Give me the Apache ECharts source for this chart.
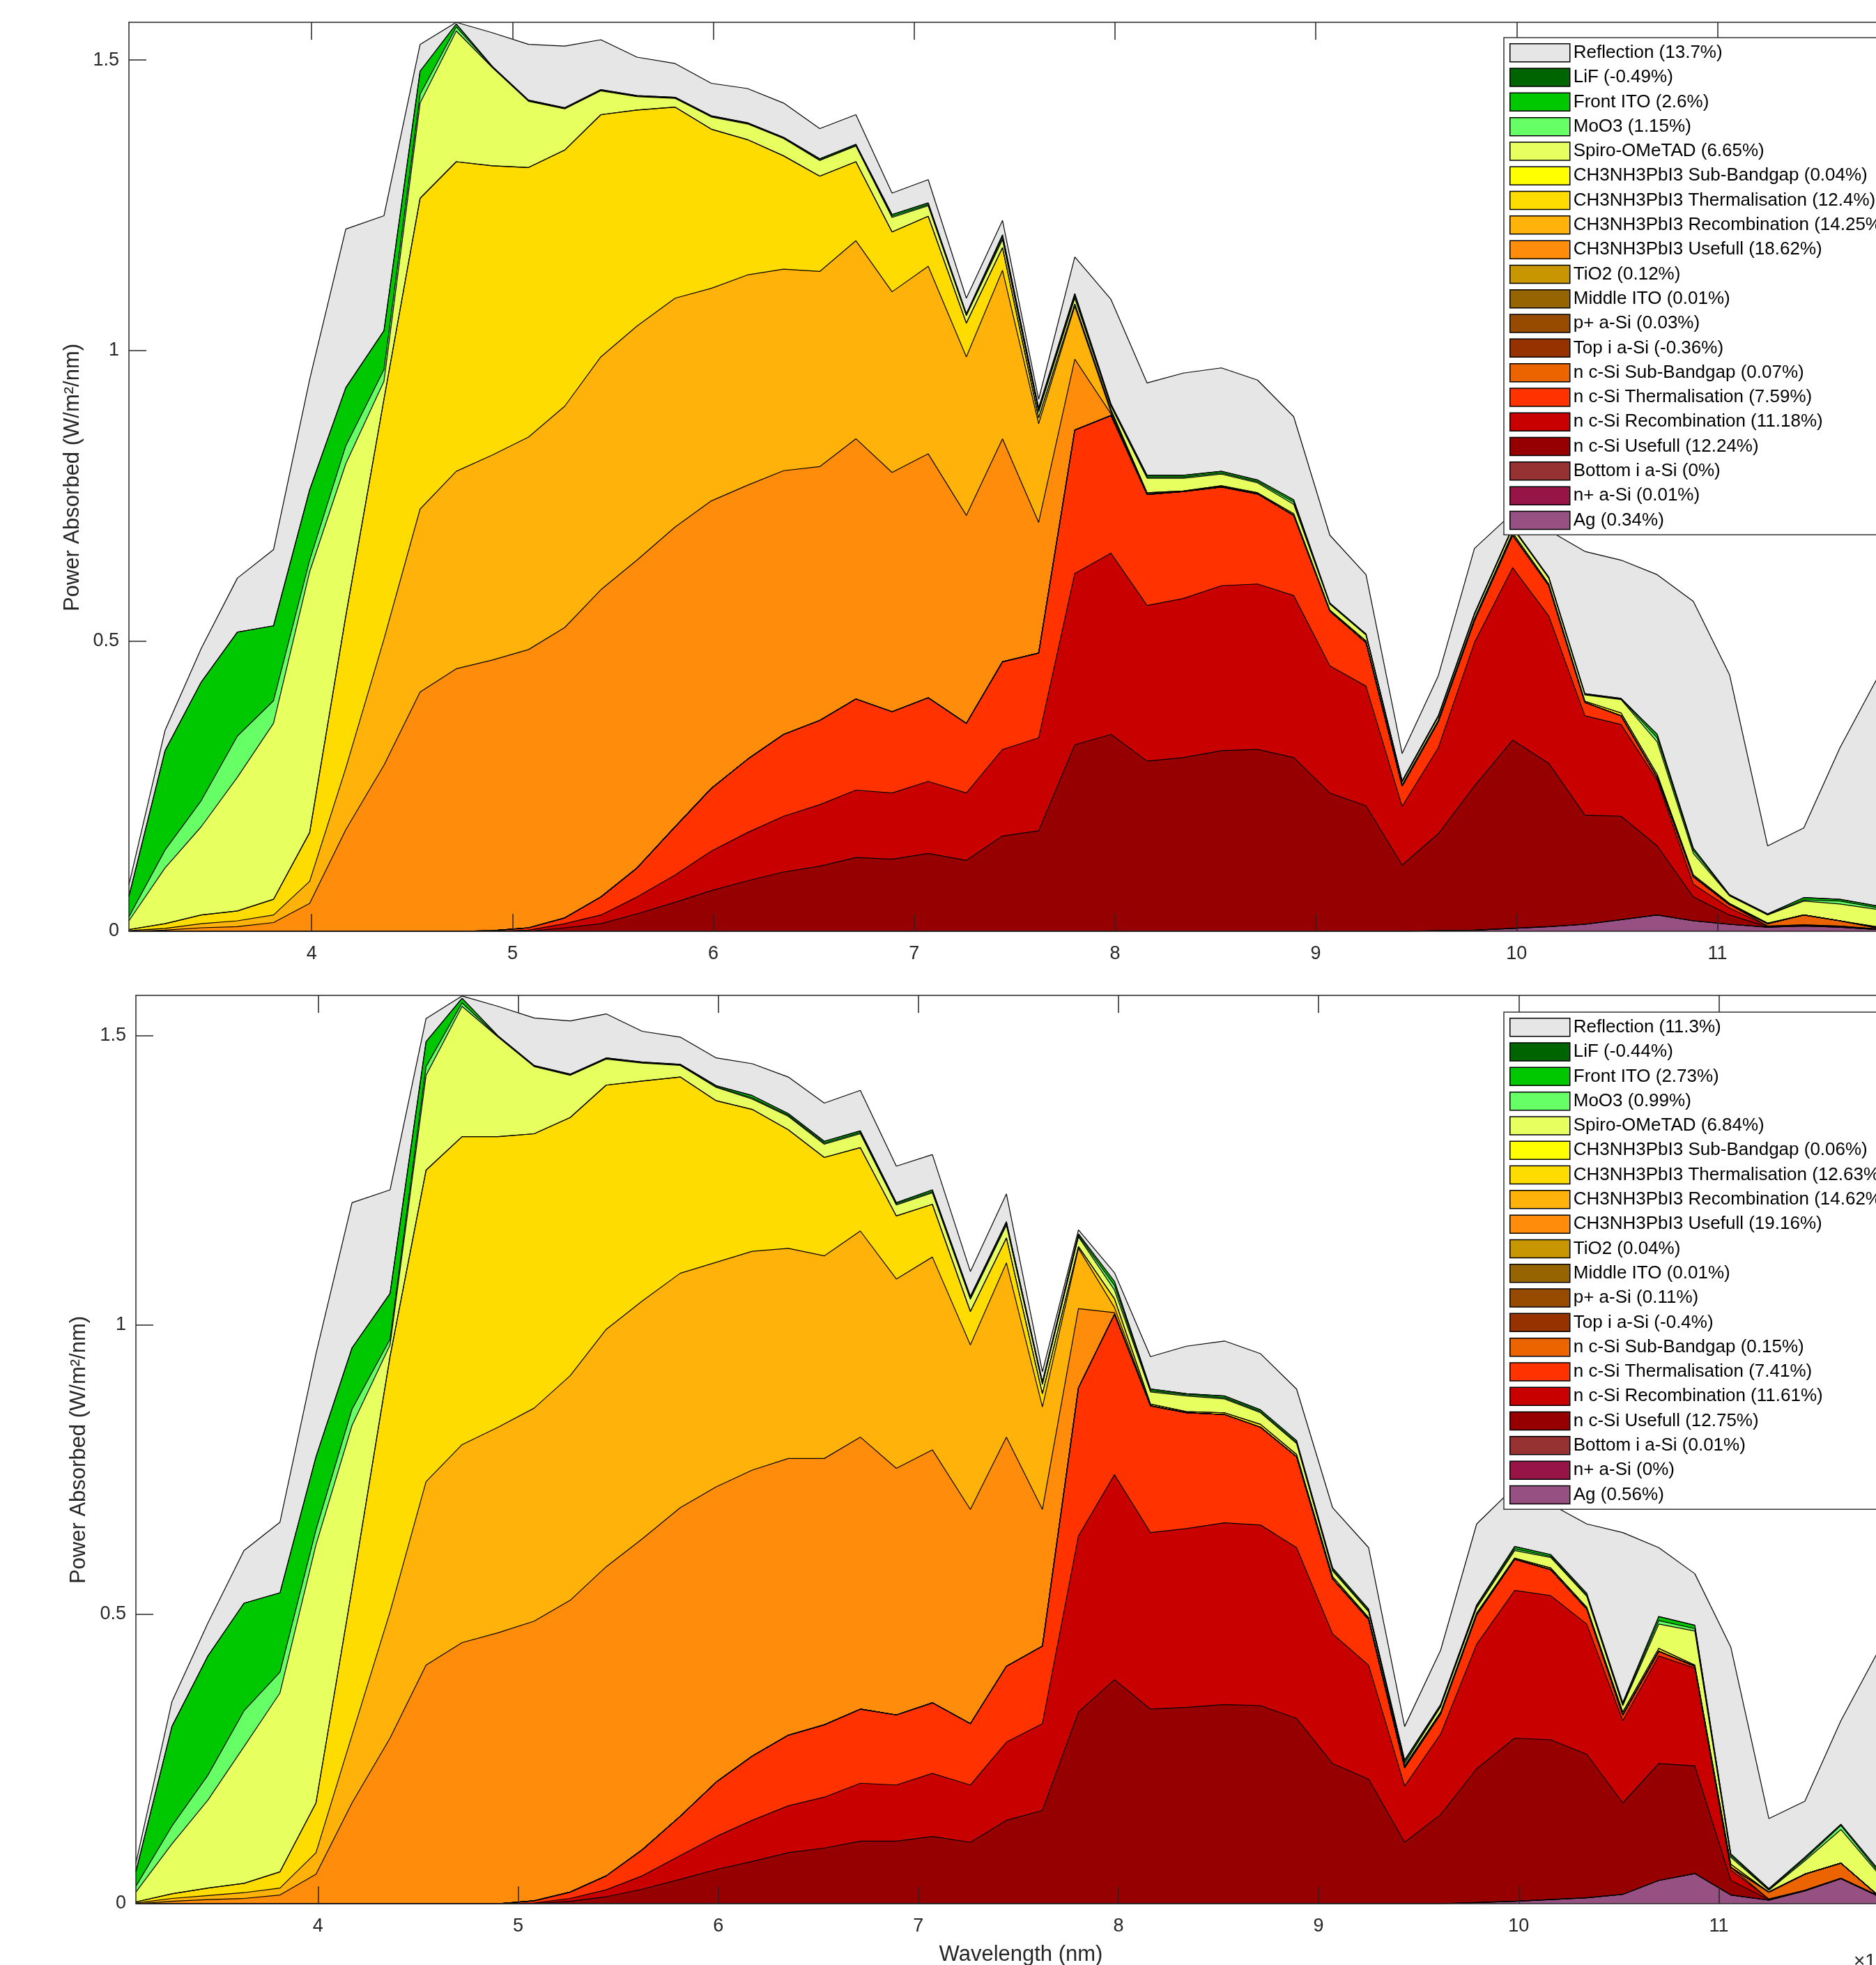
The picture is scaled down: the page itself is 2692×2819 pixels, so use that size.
<!DOCTYPE html>
<html>
<head>
<meta charset="utf-8">
<script src="https://cdn.jsdelivr.net/npm/echarts@6/dist/echarts.min.js"></script>
<style>
html,body{margin:0;padding:0;background:#ffffff;overflow:hidden;width:2692px;height:2819px}
#chart{width:2800px;height:2819px}
</style>
</head>
<body>
<div id="chart"></div>
<script>
// ---------- DATA (wavelength in units of 1e-7 m) ----------
const wavelength = [3.09,3.27,3.45,3.63,3.81,3.99,4.17,4.36,4.54,4.72,4.90,5.08,5.26,5.44,5.62,5.81,5.99,6.17,6.35,6.53,6.71,6.89,7.07,7.26,7.44,7.62,7.80,7.98,8.16,8.34,8.53,8.71,8.89,9.07,9.25,9.43,9.61,9.79,9.98,10.16,10.34,10.52,10.70,10.88,11.06,11.25,11.43,11.61,11.79,11.97];
const xTicks = [4,5,6,7,8,9,10,11];
const yTicks = [0,0.5,1,1.5];

const layerNames = ['Reflection','LiF','Front ITO','MoO3','Spiro-OMeTAD','CH3NH3PbI3 Sub-Bandgap','CH3NH3PbI3 Thermalisation','CH3NH3PbI3 Recombination','CH3NH3PbI3 Usefull','TiO2','Middle ITO','p+ a-Si','Top i a-Si','n c-Si Sub-Bandgap','n c-Si Thermalisation','n c-Si Recombination','n c-Si Usefull','Bottom i a-Si','n+ a-Si','Ag'];
const layerColors = ['#E6E6E6','#006400','#00C800','#66FF66','#E8FF60','#FFFF00','#FFDC00','#FFB20A','#FF8C0A','#C89600','#966400','#964B00','#963200','#EB6400','#FF3200','#C80000','#960000','#963232','#961446','#965082'];
const pctTop = ['13.7','-0.49','2.6','1.15','6.65','0.04','12.4','14.25','18.62','0.12','0.01','0.03','-0.36','0.07','7.59','11.18','12.24','0','0.01','0.34'];
const pctBottom = ['11.3','-0.44','2.73','0.99','6.84','0.06','12.63','14.62','19.16','0.04','0.01','0.11','-0.4','0.15','7.41','11.61','12.75','0.01','0','0.56'];

// Top panel: cumulative top edge of each visible layer (W/m^2/nm)
const topReflection = [0.08,0.346,0.487,0.608,0.657,0.95,1.209,1.232,1.527,1.565,1.547,1.527,1.524,1.535,1.505,1.494,1.460,1.451,1.426,1.382,1.406,1.271,1.294,1.090,1.224,0.916,1.161,1.088,0.944,0.961,0.970,0.949,0.886,0.682,0.614,0.306,0.440,0.659,0.72,0.69,0.654,0.639,0.614,0.568,0.442,0.147,0.178,0.316,0.432,0.53];
const topFrontITO = [0.06,0.311,0.429,0.515,0.526,0.760,0.936,1.034,1.481,1.562,1.489,1.431,1.418,1.449,1.439,1.436,1.404,1.392,1.367,1.330,1.355,1.234,1.254,1.063,1.199,0.901,1.098,0.908,0.785,0.785,0.792,0.777,0.743,0.565,0.512,0.259,0.371,0.547,0.696,0.610,0.409,0.401,0.339,0.143,0.063,0.030,0.058,0.055,0.044,0.036];
const topMoO3 = [0.025,0.14,0.225,0.336,0.397,0.639,0.836,0.967,1.441,1.557,1.488,1.430,1.417,1.448,1.438,1.435,1.403,1.391,1.366,1.328,1.353,1.231,1.251,1.061,1.195,0.897,1.094,0.906,0.782,0.782,0.789,0.774,0.739,0.564,0.511,0.258,0.370,0.546,0.695,0.609,0.408,0.400,0.333,0.139,0.062,0.029,0.054,0.052,0.041,0.034];
const topSpiro = [0.018,0.109,0.18,0.265,0.358,0.619,0.805,0.947,1.426,1.550,1.487,1.429,1.416,1.447,1.437,1.434,1.402,1.390,1.365,1.327,1.352,1.229,1.249,1.060,1.191,0.894,1.090,0.904,0.780,0.780,0.787,0.772,0.735,0.563,0.510,0.257,0.369,0.545,0.694,0.608,0.407,0.399,0.326,0.134,0.061,0.028,0.052,0.047,0.038,0.032];
const topPerovTherm = [0.003,0.013,0.028,0.035,0.055,0.170,0.543,0.916,1.262,1.325,1.318,1.315,1.345,1.406,1.414,1.419,1.381,1.363,1.335,1.300,1.325,1.204,1.231,1.047,1.177,0.884,1.080,0.898,0.755,0.758,0.767,0.755,0.719,0.553,0.500,0.252,0.363,0.538,0.686,0.598,0.396,0.376,0.270,0.097,0.048,0.014,0.028,0.018,0.008,0.005];
const topPerovRecomb = [0.001,0.005,0.013,0.018,0.028,0.086,0.281,0.503,0.727,0.792,0.820,0.851,0.904,0.989,1.042,1.090,1.107,1.130,1.140,1.136,1.189,1.101,1.145,0.989,1.138,0.874,1.076,0.894,0.753,0.757,0.765,0.753,0.716,0.551,0.497,0.250,0.361,0.535,0.682,0.595,0.394,0.371,0.265,0.094,0.046,0.013,0.028,0.018,0.006,0.004];
const topPerovUseful = [0,0.002,0.006,0.008,0.015,0.048,0.175,0.286,0.412,0.452,0.467,0.485,0.523,0.588,0.639,0.696,0.741,0.768,0.793,0.800,0.848,0.790,0.822,0.716,0.848,0.704,0.985,0.891,0.753,0.757,0.765,0.753,0.716,0.551,0.497,0.250,0.361,0.535,0.682,0.595,0.394,0.371,0.265,0.094,0.046,0.013,0.028,0.018,0.006,0.004];
const topSiSubBG = [0,0,0,0,0,0,0,0,0,0,0.001,0.006,0.023,0.059,0.109,0.180,0.246,0.296,0.339,0.363,0.400,0.378,0.402,0.358,0.464,0.479,0.863,0.888,0.752,0.757,0.765,0.753,0.716,0.551,0.497,0.250,0.361,0.535,0.682,0.595,0.394,0.371,0.265,0.094,0.046,0.013,0.028,0.018,0.006,0.004];
const topSiTherm = [0,0,0,0,0,0,0,0,0,0,0.001,0.006,0.023,0.059,0.109,0.180,0.246,0.296,0.339,0.363,0.400,0.378,0.402,0.358,0.464,0.479,0.863,0.888,0.752,0.757,0.765,0.753,0.716,0.551,0.497,0.250,0.361,0.535,0.682,0.595,0.394,0.371,0.265,0.094,0.046,0.009,0.011,0.009,0.004,0.003];
const topSiRecomb = [0,0,0,0,0,0,0,0,0,0,0,0.002,0.013,0.028,0.059,0.097,0.138,0.170,0.198,0.218,0.243,0.238,0.258,0.238,0.313,0.333,0.616,0.651,0.561,0.573,0.595,0.598,0.578,0.457,0.422,0.215,0.316,0.497,0.626,0.543,0.371,0.356,0.260,0.081,0.040,0.009,0.011,0.009,0.004,0.003];
const topSiUseful = [0,0,0,0,0,0,0,0,0,0,0,0,0.006,0.013,0.030,0.050,0.070,0.087,0.102,0.112,0.127,0.124,0.134,0.122,0.164,0.173,0.321,0.339,0.293,0.299,0.311,0.313,0.299,0.238,0.216,0.114,0.168,0.250,0.329,0.289,0.200,0.198,0.147,0.059,0.028,0.008,0.010,0.008,0.004,0.003];
const topAg = [0,0,0,0,0,0,0,0,0,0,0,0,0,0,0,0,0,0,0,0,0,0,0,0,0,0,0,0,0,0,0,0,0,0,0,0,0.001,0.002,0.005,0.008,0.012,0.020,0.028,0.018,0.012,0.007,0.009,0.007,0.003,0.002];

// Bottom panel
const botReflection = [0.07,0.349,0.485,0.610,0.659,0.95,1.211,1.233,1.529,1.568,1.550,1.530,1.525,1.537,1.507,1.497,1.461,1.451,1.428,1.383,1.405,1.274,1.294,1.092,1.226,0.919,1.164,1.090,0.945,0.963,0.972,0.950,0.889,0.684,0.615,0.306,0.438,0.656,0.72,0.69,0.656,0.641,0.615,0.570,0.443,0.147,0.177,0.316,0.432,0.53];
const botFrontITO = [0.055,0.306,0.428,0.519,0.537,0.772,0.960,1.054,1.489,1.564,1.499,1.448,1.433,1.461,1.454,1.450,1.413,1.396,1.365,1.317,1.335,1.211,1.233,1.049,1.178,0.901,1.157,1.075,0.889,0.881,0.877,0.853,0.800,0.580,0.509,0.248,0.344,0.516,0.617,0.603,0.536,0.347,0.496,0.481,0.086,0.026,0.080,0.137,0.062,0.045];
const botMoO3 = [0.03,0.134,0.222,0.333,0.400,0.646,0.854,0.975,1.446,1.556,1.498,1.447,1.432,1.460,1.453,1.449,1.411,1.392,1.362,1.314,1.332,1.209,1.230,1.046,1.175,0.899,1.154,1.068,0.886,0.879,0.874,0.850,0.797,0.577,0.506,0.245,0.342,0.513,0.613,0.600,0.533,0.344,0.489,0.475,0.083,0.024,0.077,0.135,0.058,0.042];
const botSpiro = [0.02,0.103,0.179,0.271,0.364,0.620,0.826,0.965,1.431,1.550,1.497,1.446,1.431,1.459,1.452,1.448,1.410,1.390,1.360,1.312,1.330,1.207,1.228,1.044,1.172,0.897,1.152,1.060,0.884,0.877,0.872,0.848,0.795,0.575,0.504,0.242,0.340,0.511,0.610,0.598,0.531,0.342,0.483,0.471,0.080,0.023,0.074,0.128,0.055,0.040];
const botPerovTherm = [0.003,0.017,0.027,0.035,0.055,0.174,0.544,0.945,1.267,1.325,1.325,1.330,1.358,1.414,1.421,1.428,1.387,1.372,1.337,1.289,1.306,1.188,1.208,1.023,1.150,0.881,1.135,1.045,0.863,0.850,0.848,0.828,0.776,0.565,0.494,0.238,0.331,0.502,0.597,0.580,0.512,0.331,0.441,0.412,0.068,0.020,0.051,0.070,0.016,0.005];
const botPerovRecomb = [0.001,0.009,0.014,0.019,0.027,0.088,0.291,0.504,0.729,0.793,0.823,0.856,0.912,0.992,1.041,1.089,1.108,1.127,1.132,1.119,1.162,1.079,1.117,0.965,1.107,0.858,1.132,1.030,0.860,0.848,0.845,0.823,0.772,0.561,0.491,0.235,0.328,0.499,0.595,0.577,0.509,0.326,0.436,0.410,0.063,0.020,0.051,0.070,0.016,0.005];
const botPerovUseful = [0,0.004,0.007,0.009,0.015,0.051,0.174,0.286,0.412,0.451,0.468,0.488,0.524,0.582,0.630,0.684,0.720,0.749,0.769,0.769,0.806,0.752,0.784,0.681,0.806,0.681,1.028,1.021,0.860,0.848,0.845,0.823,0.772,0.561,0.491,0.235,0.328,0.499,0.595,0.577,0.509,0.326,0.436,0.410,0.063,0.020,0.051,0.070,0.016,0.005];
const botSiSubBG = [0,0,0,0,0,0,0,0,0,0,0,0.005,0.020,0.048,0.093,0.151,0.210,0.255,0.291,0.309,0.336,0.326,0.347,0.311,0.410,0.445,0.891,1.018,0.860,0.848,0.845,0.823,0.772,0.561,0.491,0.235,0.328,0.499,0.595,0.577,0.509,0.326,0.436,0.410,0.063,0.020,0.051,0.070,0.016,0.005];
const botSiTherm = [0,0,0,0,0,0,0,0,0,0,0,0.005,0.020,0.048,0.093,0.151,0.210,0.255,0.291,0.309,0.336,0.326,0.347,0.311,0.410,0.445,0.891,1.018,0.860,0.848,0.845,0.823,0.772,0.561,0.491,0.235,0.328,0.499,0.595,0.577,0.509,0.326,0.436,0.410,0.063,0.008,0.023,0.044,0.015,0.005];
const botSiRecomb = [0,0,0,0,0,0,0,0,0,0,0,0.001,0.009,0.024,0.048,0.083,0.116,0.144,0.169,0.184,0.208,0.205,0.225,0.205,0.279,0.311,0.635,0.741,0.641,0.648,0.658,0.654,0.615,0.466,0.412,0.203,0.293,0.448,0.541,0.532,0.483,0.316,0.428,0.407,0.058,0.008,0.023,0.044,0.015,0.005];
const botSiUseful = [0,0,0,0,0,0,0,0,0,0,0,0,0.004,0.012,0.025,0.042,0.059,0.073,0.088,0.096,0.108,0.108,0.116,0.106,0.144,0.161,0.331,0.387,0.336,0.339,0.344,0.342,0.320,0.242,0.215,0.106,0.154,0.233,0.286,0.283,0.258,0.174,0.242,0.238,0.040,0.007,0.023,0.044,0.015,0.005];
const botAg = [0,0,0,0,0,0,0,0,0,0,0,0,0,0,0,0,0,0,0,0,0,0,0,0,0,0,0,0,0,0,0,0,0,0,0,0,0,0.002,0.004,0.007,0.010,0.016,0.040,0.052,0.015,0.006,0.022,0.043,0.014,0.004];

// Layer tops in legend order (zero-thickness layers share the edge below them)
const topLayers = [topReflection, topFrontITO, topFrontITO, topMoO3, topSpiro, topPerovTherm, topPerovTherm, topPerovRecomb, topPerovUseful, topSiSubBG, topSiSubBG, topSiSubBG, topSiSubBG, topSiSubBG, topSiTherm, topSiRecomb, topSiUseful, topAg, topAg, topAg];
const botLayers = [botReflection, botFrontITO, botFrontITO, botMoO3, botSpiro, botPerovTherm, botPerovTherm, botPerovRecomb, botPerovUseful, botSiSubBG, botSiSubBG, botSiSubBG, botSiSubBG, botSiSubBG, botSiTherm, botSiRecomb, botSiUseful, botAg, botAg, botAg];

// ---------- CHART ----------
const FONT = '"Liberation Sans", Arial, Helvetica, sans-serif';
const AX = '#262626';
const chart = echarts.init(document.getElementById('chart'), null, {renderer: 'canvas', width: 2800, height: 2819});

const topNames = layerNames.map((n, i) => n + ' (' + pctTop[i] + '%)');
const botNames = layerNames.map((n, i) => n + ' (' + pctBottom[i] + '%)');

function buildSeries(layers, names, g) {
  return layers.map((arr, i) => ({
    type: 'line', name: names[i], xAxisIndex: g * 2, yAxisIndex: g,
    data: wavelength.map((x, k) => [x, arr[k]]),
    symbol: 'none', showSymbol: false, silent: true, animation: false,
    emphasis: {disabled: true},
    lineStyle: {color: '#000', width: 1.2},
    itemStyle: {color: layerColors[i]},
    areaStyle: {color: layerColors[i], opacity: 1},
    z: 2
  }));
}

function xAxes(g) {
  const base = {
    type: 'value', gridIndex: g, min: 3.09, max: 11.97, z: 5,
    splitLine: {show: false},
    axisLine: {show: true, onZero: false, lineStyle: {color: AX, width: 1.5}},
    axisTick: {show: true, inside: true, length: 25, customValues: xTicks, lineStyle: {color: AX, width: 1.5}}
  };
  return [
    Object.assign({}, base, {position: 'bottom',
      axisLabel: {show: true, customValues: xTicks, fontSize: 27, fontFamily: FONT, color: AX, margin: 19}}),
    Object.assign({}, base, {position: 'top', axisLabel: {show: false}})
  ];
}

function yAxis(g, max) {
  return {
    type: 'value', gridIndex: g, min: 0, max: max, position: 'left', z: 5,
    splitLine: {show: false},
    axisLine: {show: true, onZero: false, lineStyle: {color: AX, width: 1.5}},
    axisTick: {show: true, inside: true, length: 25, customValues: yTicks, lineStyle: {color: AX, width: 1.5}},
    axisLabel: {show: true, customValues: yTicks, fontSize: 27, fontFamily: FONT, color: AX, margin: 14}
  };
}

function legend(names, top) {
  return {
    show: true, orient: 'vertical', left: 2158, top: top, z: 6,
    selectedMode: false, icon: 'rect',
    itemWidth: 86, itemHeight: 26, itemGap: 7.8,
    padding: [8, 16, 7, 8],
    backgroundColor: '#ffffff', borderColor: '#333333', borderWidth: 1.5,
    textStyle: {fontSize: 26, lineHeight: 26, fontFamily: FONT, color: '#000000'},
    data: names.map((n, i) => ({name: n, itemStyle: {color: layerColors[i], borderColor: '#000', borderWidth: 1.5}}))
  };
}

const option = {
  backgroundColor: '#ffffff',
  animation: false,
  grid: [
    {left: 185, top: 32, width: 2559, height: 1304},
    {left: 195, top: 1428, width: 2550, height: 1303}
  ],
  xAxis: xAxes(0).concat(xAxes(1)),
  yAxis: [yAxis(0, 1.565), yAxis(1, 1.569)],
  legend: [legend(topNames, 54), legend(botNames, 1452)],
  series: buildSeries(topLayers, topNames, 0).concat(buildSeries(botLayers, botNames, 1)),
  graphic: [
    {type: 'text', x: 104, y: 685, rotation: Math.PI / 2, z: 10,
     style: {text: 'Power Absorbed (W/m\u00B2/nm)', font: '31px ' + FONT, fill: AX, align: 'center', verticalAlign: 'middle', textAlign: 'center', textVerticalAlign: 'middle'}},
    {type: 'text', x: 113, y: 2080, rotation: Math.PI / 2, z: 10,
     style: {text: 'Power Absorbed (W/m\u00B2/nm)', font: '31px ' + FONT, fill: AX, align: 'center', verticalAlign: 'middle', textAlign: 'center', textVerticalAlign: 'middle'}},
    {type: 'text', x: 1465, y: 2804, z: 10,
     style: {text: 'Wavelength (nm)', font: '31px ' + FONT, fill: AX, align: 'center', verticalAlign: 'middle', textAlign: 'center', textVerticalAlign: 'middle'}},
    {type: 'text', x: 2660, y: 2814, z: 10,
     style: {text: '\u00D710\u207B\u2077', font: '28px ' + FONT, fill: AX, align: 'left', verticalAlign: 'middle', textAlign: 'left', textVerticalAlign: 'middle'}}
  ]
};
chart.setOption(option);
</script>
</body>
</html>
